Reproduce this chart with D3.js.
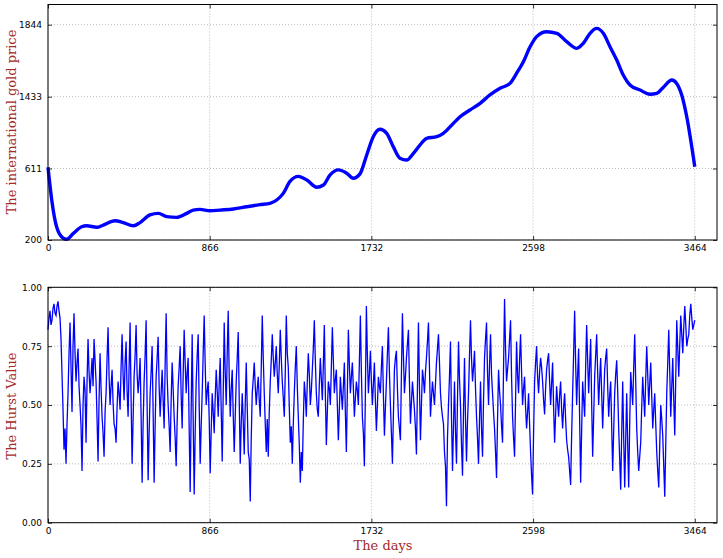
<!DOCTYPE html>
<html>
<head>
<meta charset="utf-8">
<script src="https://cdn.jsdelivr.net/npm/d3@7/dist/d3.min.js"></script>
<style>
body { margin: 0; background: #fff; }
.tick text { font-family: "DejaVu Sans", sans-serif; font-size: 9px; fill: #000; }
.lab { font-family: "DejaVu Serif", serif; font-size: 13px; fill: #a52a2a; }
</style>
</head>
<body>
<script type="text/javascript">

// top panel: gold price (days, price)
var priceDays = [0, 20, 46, 82, 100, 136, 180, 207, 261, 296, 359, 403, 457, 493, 546, 591, 636, 689, 743, 778,
  814, 868, 921, 993, 1064, 1135, 1189, 1225, 1260, 1296, 1341, 1386, 1439, 1475, 1510, 1555, 1600, 1635, 1671,
  1707, 1742, 1778, 1814, 1849, 1885, 1921, 1957, 1992, 2028, 2082, 2117, 2171, 2207, 2260, 2314, 2367, 2421,
  2474, 2510, 2546, 2582, 2617, 2671, 2725, 2778, 2832, 2867, 2903, 2939, 2974, 3010, 3046, 3081, 3117, 3171,
  3224, 3260, 3296, 3341, 3367, 3394, 3421, 3456, 3464];
var priceValues = [625, 430, 276, 210, 204, 238, 276, 282, 273, 286, 311, 300, 282, 300, 344, 353, 334, 330, 353, 372,
  376, 368, 372, 378, 391, 403, 411, 430, 468, 537, 566, 545, 503, 516, 573, 603, 584, 555, 580,
  766, 975, 1060, 1014, 861, 728, 708, 785, 880, 957, 975, 1014, 1128, 1204, 1281, 1357, 1443, 1481,
  1509, 1567, 1633, 1718, 1776, 1804, 1795, 1747, 1709, 1738, 1795, 1823, 1795, 1718, 1642, 1557, 1500, 1471,
  1447, 1452, 1487, 1528, 1509, 1443, 1204, 746, 632];
var priceTicks = [200, 611, 1433, 1844];

// bottom panel: Hurst value, one reading every ~5.4 days from day 0 to 3464
var hurstValues = [
  0.82,0.87,0.90,0.84,0.86,0.91,0.93,0.89,0.88,0.92,0.94,0.90,0.87,0.78,0.63,0.48,0.31,0.40,0.25,0.42,
  0.55,0.72,0.85,0.66,0.47,0.75,0.89,0.72,0.60,0.68,0.74,0.58,0.50,0.41,0.22,0.50,0.62,0.56,0.34,0.60,
  0.78,0.64,0.55,0.62,0.70,0.58,0.78,0.69,0.60,0.44,0.26,0.52,0.72,0.57,0.45,0.38,0.28,0.47,0.55,0.70,
  0.83,0.62,0.50,0.58,0.65,0.51,0.42,0.40,0.34,0.49,0.60,0.55,0.48,0.66,0.80,0.63,0.52,0.68,0.77,0.56,
  0.45,0.66,0.85,0.52,0.25,0.44,0.62,0.71,0.84,0.63,0.55,0.61,0.70,0.45,0.17,0.42,0.60,0.71,0.86,0.50,
  0.18,0.38,0.55,0.64,0.75,0.47,0.17,0.41,0.62,0.70,0.79,0.58,0.45,0.55,0.65,0.52,0.40,0.67,0.89,0.62,
  0.50,0.41,0.30,0.52,0.68,0.57,0.45,0.36,0.24,0.43,0.58,0.66,0.75,0.54,0.40,0.63,0.82,0.68,0.55,0.64,
  0.70,0.40,0.13,0.48,0.80,0.44,0.12,0.38,0.60,0.71,0.80,0.50,0.25,0.41,0.55,0.72,0.88,0.67,0.50,0.56,
  0.60,0.44,0.21,0.39,0.55,0.47,0.38,0.53,0.65,0.56,0.45,0.59,0.70,0.48,0.26,0.55,0.85,0.64,0.50,0.72,
  0.90,0.62,0.45,0.57,0.65,0.46,0.30,0.45,0.60,0.70,0.81,0.52,0.25,0.42,0.55,0.43,0.29,0.50,0.68,0.49,
  0.30,0.27,0.09,0.36,0.55,0.61,0.68,0.58,0.50,0.57,0.62,0.52,0.45,0.66,0.88,0.70,0.55,0.42,0.30,0.44,
  0.28,0.47,0.60,0.69,0.80,0.70,0.62,0.68,0.75,0.63,0.55,0.67,0.82,0.70,0.60,0.53,0.45,0.64,0.88,0.72,
  0.66,0.49,0.34,0.41,0.25,0.42,0.55,0.66,0.75,0.58,0.45,0.33,0.17,0.30,0.22,0.43,0.60,0.54,0.45,0.60,
  0.72,0.63,0.50,0.56,0.65,0.74,0.86,0.69,0.55,0.48,0.45,0.59,0.70,0.61,0.52,0.67,0.84,0.55,0.33,0.47,
  0.60,0.57,0.50,0.66,0.83,0.69,0.55,0.61,0.65,0.50,0.35,0.48,0.62,0.55,0.48,0.58,0.68,0.47,0.30,0.56,
  0.82,0.67,0.55,0.62,0.68,0.57,0.45,0.53,0.60,0.56,0.50,0.68,0.88,0.64,0.45,0.38,0.24,0.55,0.92,0.71,
  0.55,0.63,0.73,0.60,0.50,0.59,0.68,0.52,0.39,0.50,0.62,0.58,0.55,0.66,0.75,0.54,0.37,0.49,0.60,0.72,
  0.83,0.64,0.50,0.38,0.25,0.46,0.65,0.70,0.73,0.57,0.45,0.40,0.35,0.63,0.89,0.71,0.55,0.62,0.70,0.76,
  0.82,0.60,0.42,0.51,0.60,0.54,0.48,0.40,0.29,0.57,0.85,0.58,0.35,0.50,0.65,0.61,0.55,0.64,0.70,0.77,
  0.85,0.66,0.45,0.53,0.60,0.55,0.50,0.59,0.68,0.74,0.80,0.68,0.55,0.49,0.45,0.42,0.30,0.24,0.07,0.36,
  0.50,0.62,0.77,0.45,0.22,0.41,0.60,0.39,0.25,0.52,0.77,0.61,0.50,0.33,0.20,0.47,0.70,0.44,0.26,0.43,
  0.55,0.71,0.86,0.70,0.60,0.66,0.73,0.57,0.45,0.36,0.25,0.44,0.60,0.40,0.28,0.52,0.70,0.78,0.85,0.64,
  0.50,0.67,0.80,0.63,0.55,0.47,0.40,0.30,0.19,0.44,0.65,0.56,0.50,0.41,0.34,0.66,0.95,0.74,0.60,0.65,
  0.70,0.78,0.86,0.62,0.45,0.36,0.28,0.52,0.77,0.63,0.55,0.69,0.80,0.64,0.50,0.57,0.62,0.49,0.40,0.47,
  0.55,0.42,0.30,0.20,0.12,0.38,0.60,0.68,0.75,0.62,0.55,0.64,0.70,0.66,0.60,0.52,0.46,0.57,0.65,0.69,
  0.72,0.60,0.50,0.59,0.68,0.49,0.34,0.46,0.58,0.51,0.45,0.54,0.60,0.48,0.40,0.49,0.55,0.44,0.35,0.31,
  0.28,0.22,0.16,0.37,0.55,0.72,0.90,0.68,0.50,0.63,0.74,0.44,0.17,0.39,0.60,0.52,0.45,0.66,0.84,0.69,
  0.55,0.67,0.78,0.51,0.28,0.45,0.62,0.71,0.80,0.64,0.50,0.61,0.70,0.55,0.40,0.53,0.65,0.70,0.74,0.58,
  0.45,0.54,0.60,0.41,0.22,0.39,0.55,0.63,0.69,0.56,0.40,0.27,0.14,0.38,0.60,0.36,0.15,0.35,0.55,0.33,
  0.15,0.42,0.64,0.57,0.50,0.66,0.80,0.60,0.40,0.30,0.22,0.28,0.34,0.49,0.62,0.53,0.45,0.61,0.75,0.63,
  0.50,0.59,0.68,0.54,0.40,0.48,0.55,0.42,0.30,0.22,0.15,0.33,0.50,0.44,0.37,0.24,0.11,0.33,0.55,0.68,
  0.82,0.64,0.45,0.58,0.70,0.52,0.37,0.62,0.86,0.74,0.62,0.76,0.88,0.80,0.72,0.83,0.92,0.84,0.75,0.78,
  0.80,0.88,0.93,0.87,0.82,0.84,0.86];
var hurstTicks = [0, 0.25, 0.5, 0.75, 1];

var dayTicks = [0, 866, 1732, 2598, 3464];
var lastDay = 3464;

var width = 723, height = 558;

var svg = d3.select("body").append("svg")
    .attr("width", width)
    .attr("height", height)

var x = d3.scaleLinear().domain([0, 3583]).range([48, 717]);

// the price axis has unevenly spaced labels on evenly spaced gridlines
var yTop = d3.scaleLinear().domain(priceTicks).range([240, 168.5, 96.7, 24.7]);
var yBot = d3.scaleLinear().domain([0, 1]).range([522.7, 287.3]);

var drawPanel = function(yScale, yTickVals, fmt, top, bottom) {
    var g = svg.append("g")

    // grid
    g.selectAll("line.gx").data(dayTicks).enter().append("line")
        .attr("x1", function(d){return x(d)}).attr("x2", function(d){return x(d)})
        .attr("y1", top).attr("y2", bottom)
        .attr("stroke", "#000").attr("stroke-opacity", 0.35)
        .attr("stroke-width", 0.8).attr("stroke-dasharray", "1,2")
    g.selectAll("line.gy").data(yTickVals).enter().append("line")
        .attr("x1", 48).attr("x2", 717)
        .attr("y1", function(d){return yScale(d)}).attr("y2", function(d){return yScale(d)})
        .attr("stroke", "#000").attr("stroke-opacity", 0.35)
        .attr("stroke-width", 0.8).attr("stroke-dasharray", "1,2")

    // axes with inward ticks
    g.append("g").attr("class", "axis")
        .attr("transform", "translate(0," + bottom + ")")
        .call(d3.axisBottom(x).tickValues(dayTicks).tickSizeInner(-4).tickSizeOuter(0).tickPadding(5).tickFormat(d3.format("d")))
    g.append("g").attr("class", "axis")
        .attr("transform", "translate(0," + top + ")")
        .call(d3.axisTop(x).tickValues(dayTicks).tickSizeInner(-4).tickSizeOuter(0).tickFormat(""))
    g.append("g").attr("class", "axis")
        .attr("transform", "translate(48,0)")
        .call(d3.axisLeft(yScale).tickValues(yTickVals).tickSizeInner(-4).tickSizeOuter(0).tickPadding(6).tickFormat(fmt))
    g.append("g").attr("class", "axis")
        .attr("transform", "translate(717,0)")
        .call(d3.axisRight(yScale).tickValues(yTickVals).tickSizeInner(-4).tickSizeOuter(0).tickFormat(""))

    g.selectAll(".axis .domain").remove()
    g.selectAll(".axis line").attr("stroke", "#000").attr("stroke-width", 0.8)

    // frame
    g.append("rect")
        .attr("x", 48).attr("y", top)
        .attr("width", 717 - 48).attr("height", bottom - top)
        .attr("fill", "none").attr("stroke", "#000").attr("stroke-width", 1)
    return g
}

var topPanel = drawPanel(yTop, priceTicks, d3.format("d"), 4.5, 240)
var botPanel = drawPanel(yBot, hurstTicks, d3.format(".2f"), 287.3, 522.7)

// price line
var priceLine = d3.line()
    .x(function(d, i){return x(priceDays[i])})
    .y(function(d){return yTop(d)})
    .curve(d3.curveMonotoneX)

topPanel.insert("path", "rect")
    .datum(priceValues)
    .attr("d", priceLine)
    .attr("fill", "none")
    .attr("stroke", "#0000ff")
    .attr("stroke-width", 3.4)
    .attr("stroke-linejoin", "round")

// Hurst line
var step = lastDay / (hurstValues.length - 1)
var hurstLine = d3.line()
    .x(function(d, i){return x(i * step)})
    .y(function(d){return yBot(d)})

botPanel.insert("path", "rect")
    .datum(hurstValues)
    .attr("d", hurstLine)
    .attr("fill", "none")
    .attr("stroke", "#0000ff")
    .attr("stroke-width", 1.3)

// axis titles
svg.append("text").attr("class", "lab")
    .attr("transform", "translate(16,122) rotate(-90)")
    .attr("text-anchor", "middle")
    .text("The international gold price")
svg.append("text").attr("class", "lab")
    .attr("transform", "translate(16,406) rotate(-90)")
    .attr("text-anchor", "middle")
    .text("The Hurst Value")
svg.append("text").attr("class", "lab")
    .attr("x", 383).attr("y", 550)
    .attr("text-anchor", "middle")
    .text("The days")

</script>
</body>
</html>
